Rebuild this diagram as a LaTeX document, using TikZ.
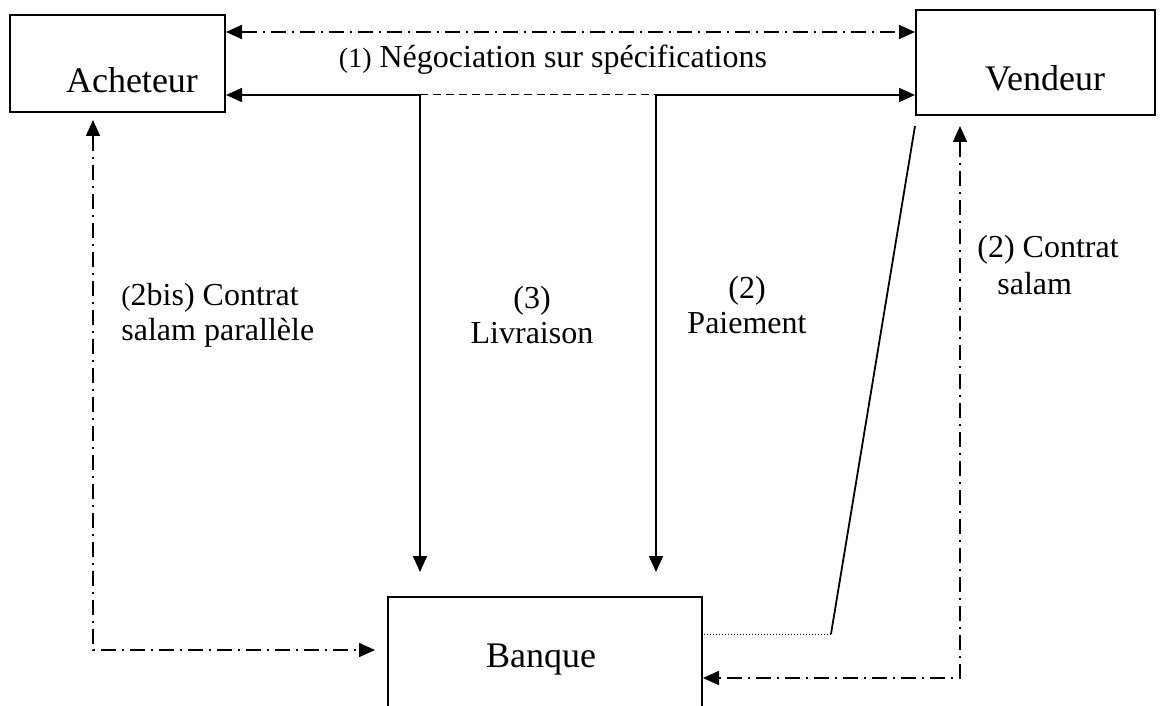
\documentclass[tikz,border=0pt]{standalone}
\usepackage{fontspec}
\setmainfont{Liberation Serif}
\usetikzlibrary{arrows.meta}
\begin{document}
\begin{tikzpicture}[x=0.5pt,y=-0.5pt,
  box/.style={draw, line width=1pt, inner sep=0pt},
  boxtext/.style={font=\fontsize{18}{21}\selectfont, inner sep=0pt},
  lbl/.style={font=\fontsize{16}{17.5}\selectfont, inner sep=0pt},
  flow/.style={line width=0.9pt},
  dashdotline/.style={line width=0.8pt, dash pattern=on 7.5pt off 3pt on 1pt off 3pt},
  thindash/.style={line width=0.5pt, dash pattern=on 4pt off 2.5pt},
  thindot/.style={line width=0.5pt, dash pattern=on 0.5pt off 1pt},
  tipend/.style={-{Triangle[length=8pt,width=7pt]}},
  tipboth/.style={{Triangle[length=8pt,width=7pt]}-{Triangle[length=8pt,width=7pt]}}
]
\useasboundingbox (0,0) rectangle (1164,706);

% Boxes
\node[box, minimum width=107.5pt, minimum height=48.5pt] (ach) at (117.5,63.5) {};
\node[box, minimum width=119.5pt, minimum height=52.5pt] (ven) at (1035.5,62.5) {};
\node[box, minimum width=157pt, minimum height=70pt] (ban) at (545,667) {};

\node[boxtext] (achT) at (132,80) {Acheteur};
\node[boxtext] (venT) at (1045,78) {Vendeur};
\node[boxtext] (banT) at (541,660) {Banque};

% Reference points of the routed connectors
\coordinate (yneg) at (0,32);
\coordinate (jliv) at (420,95);
\coordinate (jpay) at (656,95);
\coordinate (dend) at (760,95);
\coordinate (kink) at (831,634);
\coordinate (lcorner) at (93,650);
\coordinate (rcorner) at (960,678);

% (1) negotiation
\draw[dashdotline, tipboth] (ach.east |- yneg) -- (ven.west |- yneg);
\node[lbl] (negT) at (553,60) {{\fontsize{14}{15}\selectfont(1)} Négociation sur spécifications};

% Delivery and payment flows
\draw[thindash] (jliv) -- (dend);
\draw[flow, tipend] (jliv) -- (ach.east |- jliv);
\draw[flow, tipend, shorten >=12pt] (jliv) -- (jliv |- ban.north);
\draw[flow, tipend] (jpay) -- (ven.west |- jpay);
\draw[flow, tipend, shorten >=12pt] (jpay) -- (jpay |- ban.north);

% Link from seller to bank
\draw[flow] ([yshift=-5pt]ven.south west) -- (kink);
\draw[thindot] (kink) -- (ban.east |- kink);

% Salam contracts
\draw[dashdotline, tipboth, shorten <=3.5pt, shorten >=6pt] (ach.south -| lcorner) -- (lcorner) -- (ban.west |- lcorner);
\draw[dashdotline, tipboth, shorten <=5pt] (ven.south -| rcorner) -- (rcorner) -- (ban.east |- rcorner);

% Labels
\node[lbl, align=left, anchor=west] (bisT) at (121,315) {{\fontsize{14}{15}\selectfont(}2bis) Contrat\\salam parallèle};
\node[lbl, align=center] (livT) at (532,315) {(3)\\Livraison};
\node[lbl, align=center] (payT) at (747,305) {(2)\\Paiement};
\node[lbl, align=left, anchor=west, font=\fontsize{16}{18.5}\selectfont] (salT) at (977,265) {(2) Contrat\\\hspace*{10pt}salam};
\end{tikzpicture}
\end{document}
